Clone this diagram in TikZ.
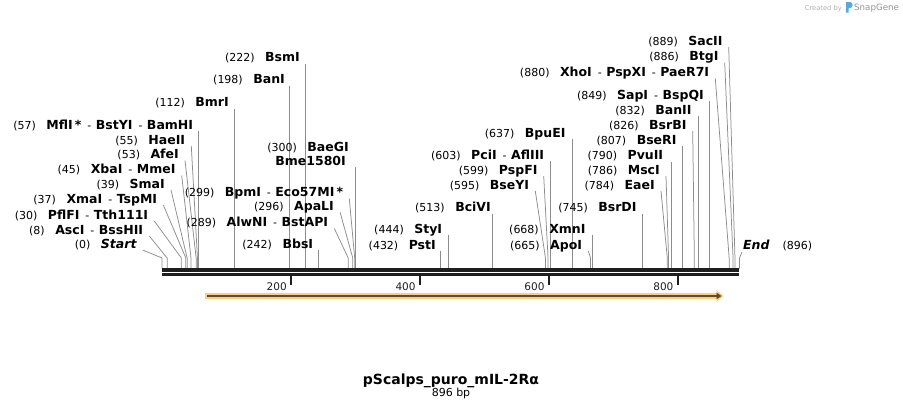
\documentclass[tikz,border=0pt]{standalone}
\usepackage{fontspec}
\setmainfont{DejaVu Sans}
\usetikzlibrary{calc, positioning}
\usetikzlibrary{arrows.meta}

\definecolor{leadgray}{RGB}{140,140,140}
\definecolor{seqblack}{RGB}{30,30,30}
\definecolor{featorange}{RGB}{255,204,128}
\definecolor{featdark}{RGB}{90,75,55}
\definecolor{markgray}{RGB}{175,175,175}
\definecolor{logoblue}{RGB}{80,170,230}

\newcommand{\numfont}{\fontsize{11}{13}\selectfont}
\newcommand{\rulfont}{\fontsize{10.5}{12}\selectfont}
\newcommand{\enz}[1]{{\fontsize{12.5}{14}\selectfont\bfseries #1}}
\newcommand{\gapp}{\hspace{10.5pt}}
\newcommand{\sepr}{\hspace{6pt}-\hspace{4.5pt}}

\begin{document}
\begin{tikzpicture}[x=1pt, y=-1pt,
  site/.style={font=\numfont, inner sep=0pt, anchor=base east},
  leader/.style={draw=leadgray, line width=0.75pt},
  seqline/.style={draw=seqblack},
  ruler/.style={draw=seqblack, line width=2pt}]
\def\xo{162}
\def\sc{0.6445}
\def\kink{258}
\def\seqtop{268.5}
\useasboundingbox (0,0) rectangle (903,408);

\foreach \nm/\bp/\xe/\yb/\vt/\txt in {
  start/0/136.7/248/0/{(0)\gapp\enz{\itshape Start}},
  ascI/8/143.3/234/0/{(8)\gapp\enz{AscI}\sepr\enz{BssHII}},
  pflFI/30/148.3/219/0/{(30)\gapp\enz{PflFI}\sepr\enz{Tth111I}},
  xmaI/37/157.3/203/0/{(37)\gapp\enz{XmaI}\sepr\enz{TspMI}},
  smaI/39/165/188/0/{(39)\gapp\enz{SmaI}},
  xbaI/45/175.7/173.5/0/{(45)\gapp\enz{XbaI}\sepr\enz{MmeI}},
  afeI/53/179/158.5/0/{(53)\gapp\enz{AfeI}},
  haeII/55/185.3/144/0/{(55)\gapp\enz{HaeII}},
  mflI/57/193.3/129/1/{(57)\gapp\enz{MflI\,*}\sepr\enz{BstYI}\sepr\enz{BamHI}},
  bmrI/112/229/106.5/1/{(112)\gapp\enz{BmrI}},
  banI/198/285/83.5/1/{(198)\gapp\enz{BanI}},
  bsmI/222/300/61.5/1/{(222)\gapp\enz{BsmI}},
  bbsI/242/313.3/248/1/{(242)\gapp\enz{BbsI}},
  alwNI/289/328.3/226.5/0/{(289)\gapp\enz{AlwNI}\sepr\enz{BstAPI}},
  apaLI/296/334/210/0/{(296)\gapp\enz{ApaLI}},
  bpmI/299/343.3/196.5/0/{(299)\gapp\enz{BpmI}\sepr\enz{Eco57MI\,*}},
  bme/300/346/165/1/{\enz{Bme1580I}},
  pstI/432/436/249/1/{(432)\gapp\enz{PstI}},
  styI/444/442.3/233/1/{(444)\gapp\enz{StyI}},
  bciVI/513/491/211.5/1/{(513)\gapp\enz{BciVI}},
  bseYI/595/529.3/189/0/{(595)\gapp\enz{BseYI}},
  pspFI/599/537.7/174/0/{(599)\gapp\enz{PspFI}},
  pciI/603/544.3/159/1/{(603)\gapp\enz{PciI}\sepr\enz{AflIII}},
  bpuEI/637/565.7/137/1/{(637)\gapp\enz{BpuEI}},
  apoI/665/582.3/249/0/{(665)\gapp\enz{ApoI}},
  xmnI/668/585.7/233/1/{(668)\gapp\enz{XmnI}},
  bsrDI/745/636.7/211.5/1/{(745)\gapp\enz{BsrDI}},
  eaeI/784/655/189/0/{(784)\gapp\enz{EaeI}},
  mscI/786/660/174/0/{(786)\gapp\enz{MscI}},
  pvuII/790/663.3/159.5/1/{(790)\gapp\enz{PvuII}},
  bseRI/807/676.7/144/1/{(807)\gapp\enz{BseRI}},
  bsrBI/826/686.7/129/0/{(826)\gapp\enz{BsrBI}},
  banII/832/691.7/114/1/{(832)\gapp\enz{BanII}},
  sapI/849/704/99/1/{(849)\gapp\enz{SapI}\sepr\enz{BspQI}},
  xhoI/880/709.3/76.5/0/{(880)\gapp\enz{XhoI}\sepr\enz{PspXI}\sepr\enz{PaeR7I}},
  btgI/886/718.7/60.5/0/{(886)\gapp\enz{BtgI}},
  sacII/889/722.7/45/0/{(889)\gapp\enz{SacII}}}{
  \node[site] (\nm) at (\xe,\yb) {\txt};
  \coordinate (\nm-k) at ({\xo+\sc*\bp},\kink);
  \coordinate (\nm-b) at ({\xo+\sc*\bp},\seqtop);
  \ifnum\vt=1
    \draw[leader] ($(\nm.base east -| \nm-b)+(0,2)$) -- (\nm-b);
  \else
    \draw[leader] ([xshift=6pt,yshift=-2pt]\nm.base east) -- (\nm-k) -- (\nm-b);
  \fi
}
\node[site] (baegi) at (349,151.5) {(300)\gapp\enz{BaeGI}};

\node[font=\numfont, inner sep=0pt, anchor=base west] (end) at (743,249)
  {\enz{\itshape End}\hspace{13pt}(896)};
\coordinate (end-k) at ({\xo+\sc*896},\kink);
\coordinate (end-b) at ({\xo+\sc*896},\seqtop);
\draw[leader] ([xshift=-1pt,yshift=-3pt]end.base west) -- (end-k) -- (end-b);

\coordinate (seqA) at (\xo,270);
\coordinate (seqB) at ({\xo+\sc*896},270);
\draw[seqline, line width=3.4pt] (seqA) -- (seqB);
\draw[seqline, line width=2.8pt] ([yshift=-4.8pt]seqA) -- ([yshift=-4.8pt]seqB);

\foreach \t in {200,400,600,800} {
  \coordinate (tick\t) at ({\xo+\sc*\t},276);
  \draw[ruler] (tick\t) -- ++(0,9);
  \node[font=\rulfont, text=seqblack, inner sep=0pt, anchor=base east]
    (num\t) at ({\xo+\sc*\t-4},290) {\t};
}

\coordinate (featA) at (205,296);
\coordinate (featB) at (723.5,296);
\draw[featorange, line width=6pt, -{Triangle[length=7pt,width=11pt]}] (featA) -- (featB);
\draw[featdark, line width=2pt, -{Triangle[length=5pt,width=6.5pt]}]
  ([xshift=2pt]featA) -- ([xshift=-2pt]featB);

\node[font=\fontsize{14}{16}\selectfont\bfseries, inner sep=0pt, anchor=base]
  (title) at (451,384) {pScalps\_puro\_mIL-2Rα};
\node[font=\fontsize{11}{13}\selectfont, inner sep=0pt, anchor=base]
  (size) at (451,396.5) {896 bp};

\node[font=\fontsize{6.7}{8}\selectfont, text=markgray, inner sep=0pt, anchor=base east]
  (made) at (842,10) {Created by};
\fill[logoblue] (846,2) -- (850,2) .. controls (853.5,2) and (853.5,8) .. (850,8)
  -- (848.5,8) -- (848.5,12.5) -- (846,12.5) -- cycle;
\node[font=\fontsize{8.7}{10}\selectfont, text=gray!85, inner sep=0pt, anchor=base west]
  (snap) at (854,10.5) {SnapGene};
\end{tikzpicture}
\end{document}
